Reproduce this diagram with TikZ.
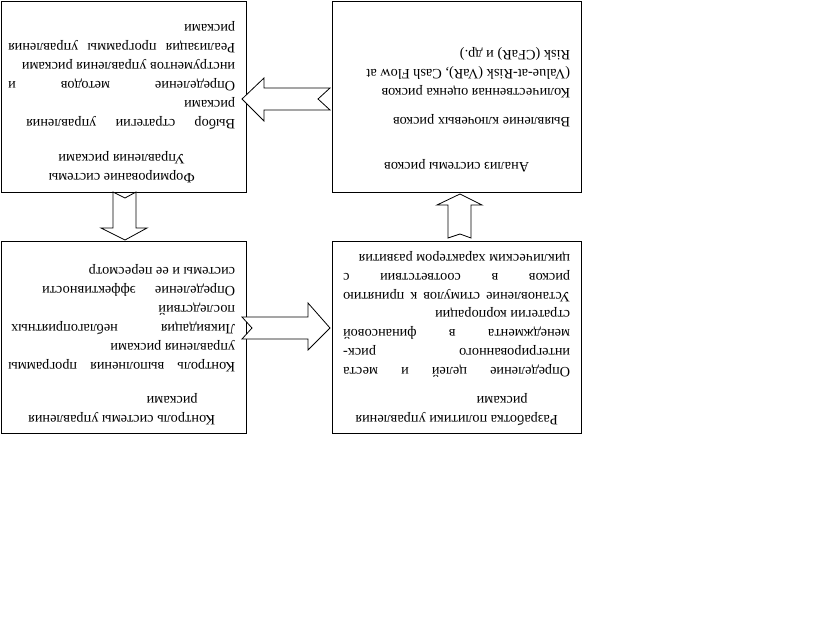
\documentclass[tikz,border=0pt]{standalone}
\usepackage{fontspec}
\setmainfont{Liberation Serif}
\usetikzlibrary{calc}

\begin{document}
\begin{tikzpicture}[x=1pt, y=-1pt,
    framebox/.style={draw, line width=0.8pt, inner sep=0pt},
    boxtext/.style={rotate=180, anchor=base west, inner sep=0pt, text width=227pt,
        align=justify, font=\fontsize{14.3pt}{19pt}\selectfont},
    blockarrow/.style={draw, line width=0.8pt, fill=white, line join=miter}]
    \useasboundingbox (0,0) rectangle (831,626);

    % frames
    \node[framebox, minimum width=245pt, minimum height=191pt] (formation) at (123.5, 96.5) {};
    \node[framebox, minimum width=249pt, minimum height=191pt] (analysis) at (456.5, 96.5) {};
    \node[framebox, minimum width=245pt, minimum height=192pt] (control) at (123.5, 337) {};
    \node[framebox, minimum width=249pt, minimum height=192pt] (policy) at (456.5, 337) {};

    % texts (the whole sheet is upside down)
    \node[boxtext] (formationtext) at ($(formation.south east)+(-11,-19)$) {%
        {\centering Формирование системы\\ Управления рисками\par}
        \vspace{16pt}
        {\rightskip=18pt Выбор стратегии управления\linebreak рисками\par}
        Определение методов и\linebreak инструментов управления рисками\par
        Реализация программы управления\linebreak рисками\par};
    \node[boxtext] (analysistext) at ($(analysis.south east)+(-11,-30)$) {%
        {\centering Анализ системы рисков\par}
        \vspace{26pt}
        {\raggedright Выявление ключевых рисков\par
        \vspace{10pt}
        Количественная оценка рисков\\ (Value-at-Risk (VaR), Cash Flow at\\ Risk (CFaR) и др.)\par}};
    \node[boxtext] (controltext) at ($(control.south east)+(-11,-18)$) {%
        {\centering Контроль системы управления\hspace*{14pt}\\ рисками\hspace*{101pt}\par}
        \vspace{15pt}
        Контроль выполнения программы\linebreak управления рисками\par
        {\rightskip=3pt Ликвидация неблагоприятных\linebreak последствий\par}
        {\rightskip=34pt Определение эффективности\linebreak системы и ее пересмотр\par}};
    \node[boxtext, font=\fontsize{14.3pt}{18.7pt}\selectfont] (policytext)
        at ($(policy.south east)+(-11,-18)$) {%
        {\centering Разработка политики управления\hspace*{5pt}\\ рисками\hspace*{91pt}\par}
        \vspace{11pt}
        Определение целей и места\linebreak интегрированного риск-\linebreak
        менеджмента в финансовой\linebreak стратегии корпорации\par
        Установление стимулов к принятию\linebreak рисков в соответствии с\linebreak
        циклическим характером развития\par};

    % block arrows
    \draw[blockarrow] (330,88) -- (264,88) -- (264,78) -- (242,99) -- (264,121)
        -- (264,110) -- (330,110) -- (318,99) -- cycle;
    \draw[blockarrow] (113,192) -- (125,198) -- (136,192) -- (136,228) -- (147,228)
        -- (125,240) -- (101,228) -- (113,228) -- cycle;
    \draw[blockarrow] (242,317) -- (308,317) -- (308,303) -- (330,328) -- (308,350)
        -- (308,339) -- (242,339) -- (252,328) -- cycle;
    \draw[blockarrow] (448,238) -- (448,205) -- (437,205) -- (460,194) -- (482,205)
        -- (471,205) -- (471,238) -- (460,234) -- cycle;
\end{tikzpicture}
\end{document}
